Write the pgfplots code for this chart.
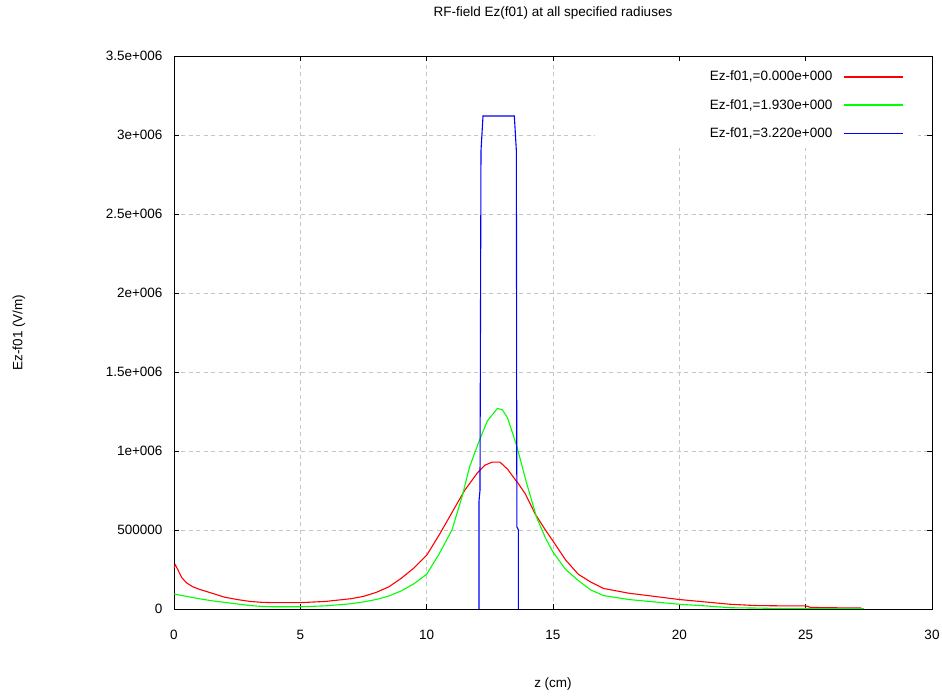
\documentclass[border=0pt]{standalone}
\usepackage{fontspec}
\setmainfont{Liberation Sans}
\usepackage{pgfplots}
\usepackage{pgfplotstable}
\pgfplotsset{compat=1.18}

% Ez(f01) on axis, r = 0.000
\pgfplotstableread{
z E
0.00 0.26e6
0.05 0.28e6
0.15 0.25e6
0.30 0.20e6
0.50 0.165e6
0.75 0.14e6
1.00 0.125e6
1.50 0.10e6
2.00 0.075e6
2.50 0.06e6
3.00 0.048e6
3.50 0.042e6
4.00 0.04e6
5.00 0.04e6
6.00 0.048e6
7.00 0.065e6
7.50 0.08e6
8.00 0.105e6
8.50 0.14e6
9.00 0.195e6
9.50 0.26e6
10.00 0.34e6
10.50 0.47e6
11.00 0.61e6
11.50 0.75e6
12.00 0.86e6
12.30 0.91e6
12.60 0.93e6
12.90 0.93e6
13.20 0.885e6
13.50 0.82e6
13.60 0.80e6
13.90 0.73e6
14.30 0.60e6
14.70 0.50e6
15.00 0.43e6
15.50 0.31e6
16.00 0.22e6
16.50 0.17e6
17.00 0.13e6
18.00 0.10e6
19.00 0.08e6
20.00 0.06e6
21.00 0.045e6
22.00 0.03e6
23.00 0.022e6
24.00 0.02e6
25.00 0.02e6
25.20 0.01e6
26.00 0.008e6
27.20 0.006e6
}\rzero

% r = 1.930
\pgfplotstableread{
z E
0.00 0.095e6
0.50 0.08e6
1.00 0.065e6
1.50 0.052e6
2.00 0.042e6
2.50 0.032e6
3.00 0.022e6
3.50 0.016e6
4.00 0.014e6
5.00 0.014e6
6.00 0.02e6
7.00 0.033e6
7.50 0.045e6
8.00 0.06e6
8.50 0.082e6
9.00 0.115e6
9.50 0.16e6
10.00 0.22e6
10.50 0.35e6
11.00 0.50e6
11.40 0.71e6
11.70 0.90e6
12.07 1.06e6
12.40 1.19e6
12.80 1.27e6
13.00 1.26e6
13.20 1.21e6
13.55 1.04e6
13.95 0.80e6
14.35 0.58e6
14.70 0.45e6
15.00 0.36e6
15.50 0.25e6
16.00 0.18e6
16.50 0.12e6
17.00 0.085e6
18.00 0.06e6
19.00 0.045e6
20.00 0.03e6
21.00 0.02e6
22.00 0.008e6
23.00 0.006e6
24.00 0.003e6
25.00 0.003e6
26.00 0.002e6
27.30 0.002e6
}\rone

% r = 3.220
\pgfplotstableread{
z E
12.07 0
12.07 0.68e6
12.11 0.75e6
12.15 2.90e6
12.23 3.12e6
13.47 3.12e6
13.55 2.90e6
13.57 0.52e6
13.63 0.50e6
13.63 0
}\rtwo

\definecolor{cRed}{RGB}{255,0,0}
\definecolor{cGreen}{RGB}{0,255,0}
\definecolor{cBlue}{RGB}{0,0,255}

\begin{document}
\begin{tikzpicture}[font=\fontsize{13.5}{16}\selectfont]
\useasboundingbox (-174pt,-89pt) rectangle (768pt,609pt);
\begin{axis}[
  scale only axis,
  width=758pt, height=553pt,
  xmin=0, xmax=30, ymin=0, ymax=3.5e6,
  xtick={0,5,...,30},
  ytick={0,500000,1000000,1500000,2000000,2500000,3000000,3500000},
  yticklabels={0,500000,1e+006,1.5e+006,2e+006,2.5e+006,3e+006,3.5e+006},
  scaled y ticks=false,
  /pgf/number format/assume math mode=true,
  tick align=inside,
  major tick length=5pt,
  tick style={black, line width=0.8pt},
  axis line style={black, line width=0.9pt},
  grid=major,
  grid style={gray!45, line width=0.8pt, dash pattern=on 4pt off 3.5pt},
  xticklabel style={yshift=-18pt},
  yticklabel style={xshift=-8pt},
  title={RF-field Ez(f01) at all specified radiuses},
  title style={at={(axis description cs:0.5,1.066)}, anchor=center},
  xlabel={z (cm)},
  xlabel style={at={(axis description cs:0.5,-0.136)}, anchor=center},
  ylabel={Ez-f01 (V/m)},
  ylabel style={at={(axis description cs:-0.2045,0.5)}, anchor=center},
  legend plot pos=right,
  legend cell align=right,
  legend image code/.code={\draw[#1, line width=1.5pt] (0pt,0pt) -- (59pt,0pt);},
  legend style={at={(axis description cs:1,1)}, anchor=north east,
    xshift=-14pt, yshift=-9pt, draw=none, fill=none,
    inner xsep=14pt, inner ysep=4pt, row sep=13pt,
    /tikz/every odd column/.append style={column sep=9pt}},
]
% white key panel over the grid
\fill[white] (axis cs:16.66,3.462e6) rectangle (axis cs:29.44,2.918e6);
\addplot[draw=cRed, line width=1.1pt] table {\rzero};
\addlegendentry{Ez-f01,=0.000e+000}
\addplot[draw=cGreen, line width=1.1pt] table {\rone};
\addlegendentry{Ez-f01,=1.930e+000}
\addplot[draw=cBlue, line width=1.1pt] table {\rtwo};
\addlegendentry{Ez-f01,=3.220e+000}
\end{axis}
\end{tikzpicture}
\end{document}
